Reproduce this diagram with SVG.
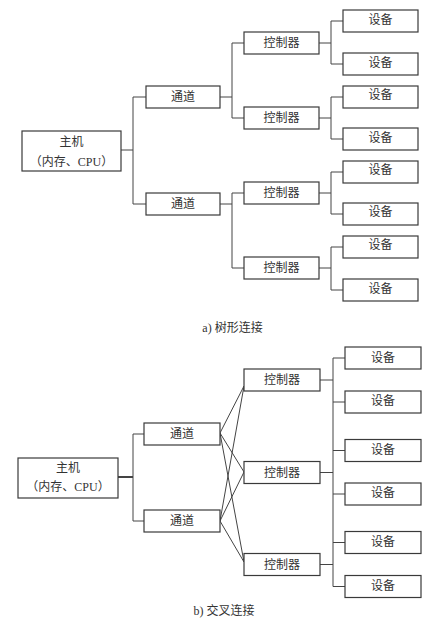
<svg xmlns="http://www.w3.org/2000/svg" width="435" height="630" viewBox="0 0 435 630">
<style>
  .box{fill:#fff;stroke:#3a3a3a;stroke-width:1.2}
  .ln{fill:none;stroke:#444;stroke-width:1}
  .t{font-family:"Liberation Serif","Noto Sans CJK SC",serif;font-size:12px;fill:#333;text-anchor:middle;dominant-baseline:central}
</style>
<rect width="435" height="630" fill="#fff"/>
<g id="connectors">
  <path class="ln" d="M121 150H133M133 97V204M133 97H146M133 204H146"/>
  <path class="ln" d="M220 97H232M232 43V118M232 43H244M232 118H244"/>
  <path class="ln" d="M220 204H232M232 193V268M232 193H244M232 268H244"/>
  <path class="ln" d="M319 43H331M331 21V64M331 21H343M331 64H343"/>
  <path class="ln" d="M319 118H331M331 97V139M331 97H343M331 139H343"/>
  <path class="ln" d="M319 193H331M331 172V214M331 172H343M331 214H343"/>
  <path class="ln" d="M319 268H331M331 247V290M331 247H343M331 290H343"/>
  <path class="ln" style="stroke-width:2" d="M118 477H133"/>
  <path class="ln" d="M133 434V521M133 434H144M133 521H144"/>
  <path class="ln" d="M220 433L244 386M220 433L244 472M220 433L244 562M220 521L244 386M220 521L244 472M220 521L244 562"/>
  <path class="ln" d="M320 380H333M320 472.5H333M320 564.5H333M333 358V586.5"/>
  <path class="ln" d="M333 358H345M333 402H345M333 450.5H345M333 494H345M333 542.5H345M333 586.5H345"/>
</g>
<g id="a-host"><rect class="box" x="22" y="131" width="99" height="40"/><text class="t" x="71.5" y="142">主机</text><text class="t" x="71.5" y="162">（内存、CPU）</text></g>
<g id="a-ch1"><rect class="box" x="146" y="86" width="74" height="22"/><text class="t" x="183" y="97">通道</text></g>
<g id="a-ch2"><rect class="box" x="146" y="193" width="74" height="22"/><text class="t" x="183" y="204">通道</text></g>
<g id="a-ct1"><rect class="box" x="244" y="32" width="75" height="22"/><text class="t" x="281.5" y="43">控制器</text></g>
<g id="a-ct2"><rect class="box" x="244" y="107" width="75" height="22"/><text class="t" x="281.5" y="118">控制器</text></g>
<g id="a-ct3"><rect class="box" x="244" y="182" width="75" height="22"/><text class="t" x="281.5" y="193">控制器</text></g>
<g id="a-ct4"><rect class="box" x="244" y="257" width="75" height="22"/><text class="t" x="281.5" y="268">控制器</text></g>
<g id="a-d1"><rect class="box" x="343" y="10" width="75" height="22"/><text class="t" x="380.5" y="20">设备</text></g>
<g id="a-d2"><rect class="box" x="343" y="53" width="75" height="22"/><text class="t" x="380.5" y="63">设备</text></g>
<g id="a-d3"><rect class="box" x="343" y="86" width="75" height="22"/><text class="t" x="380.5" y="95">设备</text></g>
<g id="a-d4"><rect class="box" x="343" y="128" width="75" height="22"/><text class="t" x="380.5" y="138">设备</text></g>
<g id="a-d5"><rect class="box" x="343" y="161" width="75" height="22"/><text class="t" x="380.5" y="170">设备</text></g>
<g id="a-d6"><rect class="box" x="343" y="203" width="75" height="22"/><text class="t" x="380.5" y="212">设备</text></g>
<g id="a-d7"><rect class="box" x="343" y="236" width="75" height="22"/><text class="t" x="380.5" y="245">设备</text></g>
<g id="a-d8"><rect class="box" x="343" y="279" width="75" height="22"/><text class="t" x="380.5" y="289">设备</text></g>
<text id="cap-a" class="t" x="232.5" y="328">a) 树形连接</text>
<g id="b-host"><rect class="box" x="18" y="458" width="100" height="40"/><text class="t" x="68" y="468">主机</text><text class="t" x="68" y="487">（内存、CPU）</text></g>
<g id="b-ch1"><rect class="box" x="144" y="423" width="76" height="22"/><text class="t" x="182" y="434">通道</text></g>
<g id="b-ch2"><rect class="box" x="144" y="510" width="76" height="22"/><text class="t" x="182" y="521">通道</text></g>
<g id="b-ct1"><rect class="box" x="244" y="369" width="76" height="22"/><text class="t" x="282" y="380">控制器</text></g>
<g id="b-ct2"><rect class="box" x="244" y="461.5" width="76" height="22"/><text class="t" x="282" y="472.5">控制器</text></g>
<g id="b-ct3"><rect class="box" x="244" y="553.5" width="76" height="22"/><text class="t" x="282" y="564.5">控制器</text></g>
<g id="b-d1"><rect class="box" x="345" y="347" width="76" height="22"/><text class="t" x="383" y="358">设备</text></g>
<g id="b-d2"><rect class="box" x="345" y="391" width="76" height="22"/><text class="t" x="383" y="401">设备</text></g>
<g id="b-d3"><rect class="box" x="345" y="439.5" width="76" height="22"/><text class="t" x="383" y="450">设备</text></g>
<g id="b-d4"><rect class="box" x="345" y="483" width="76" height="22"/><text class="t" x="383" y="493">设备</text></g>
<g id="b-d5"><rect class="box" x="345" y="531.5" width="76" height="22"/><text class="t" x="383" y="542">设备</text></g>
<g id="b-d6"><rect class="box" x="345" y="575.5" width="76" height="22"/><text class="t" x="383" y="586">设备</text></g>
<text id="cap-b" class="t" x="224" y="611">b) 交叉连接</text>
</svg>
